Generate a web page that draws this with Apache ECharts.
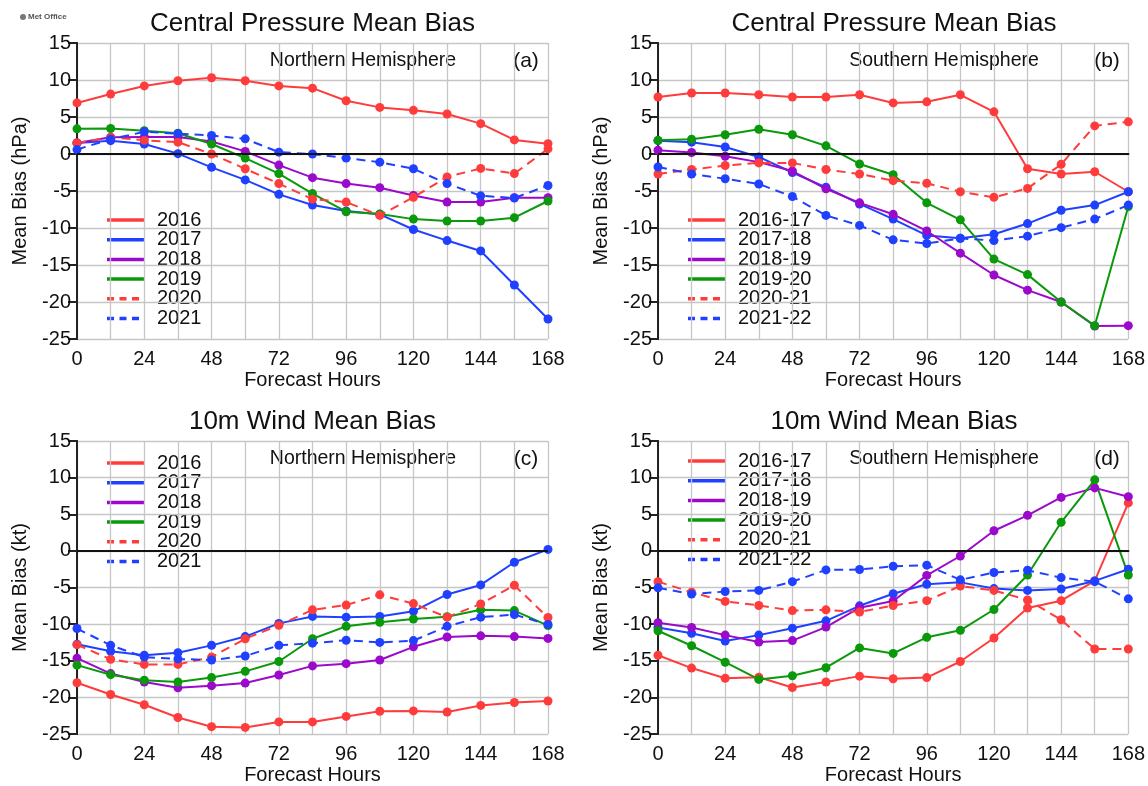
<!DOCTYPE html>
<html><head><meta charset="utf-8">
<script src="https://cdn.jsdelivr.net/npm/echarts@6/dist/echarts.min.js"></script>
<style>html,body{margin:0;padding:0;background:#fff}#c{width:1148px;height:786px}</style>
</head><body><div id="c"></div>
<script>
// ---------- data ----------
const hours = [0,12,24,36,48,60,72,84,96,108,120,132,144,156,168];
const xTickLabels = [0,24,48,72,96,120,144,168];
const yMin = -25, yMax = 15, yStep = 5;
const namesNH = ['2016','2017','2018','2019','2020','2021'];
const namesSH = ['2016-17','2017-18','2018-19','2019-20','2020-21','2021-22'];

// (a) Central pressure, Northern Hemisphere (hPa)
const a2016 = [6.9, 8.1, 9.2, 9.9, 10.3, 9.9, 9.2, 8.9, 7.2, 6.3, 5.9, 5.4, 4.1, 1.9, 1.4];
const a2017 = [1.5, 1.8, 1.35, 0.05, -1.8, -3.5, -5.45, -6.9, -7.7, -8.15, -10.2, -11.7, -13.1, -17.7, -22.3];
const a2018 = [1.5, 2.25, 2.3, 2.3, 1.7, 0.35, -1.5, -3.2, -4.0, -4.55, -5.6, -6.5, -6.5, -5.9, -5.9];
const a2019 = [3.4, 3.45, 3.15, 2.8, 1.35, -0.55, -2.65, -5.35, -7.8, -8.1, -8.8, -9.05, -9.05, -8.6, -6.35];
const a2020 = [1.5, 2.25, 1.85, 1.6, 0.0, -2.0, -4.0, -6.1, -6.5, -8.3, -5.85, -3.1, -1.95, -2.65, 0.7];
const a2021 = [0.6, 2.0, 3.0, 2.75, 2.5, 2.05, 0.25, 0.0, -0.55, -1.1, -2.0, -4.0, -5.65, -5.95, -4.25];

// (b) Central pressure, Southern Hemisphere (hPa)
const b1617 = [7.7, 8.25, 8.25, 8.0, 7.7, 7.7, 8.0, 6.9, 7.05, 8.0, 5.7, -2.0, -2.7, -2.4, -5.1];
const b1718 = [1.8, 1.6, 0.95, -0.4, -2.5, -4.5, -6.75, -8.8, -11.0, -11.4, -10.85, -9.4, -7.6, -6.9, -5.1];
const b1819 = [0.5, 0.2, -0.3, -1.1, -2.3, -4.7, -6.6, -8.15, -10.4, -13.4, -16.35, -18.4, -20.0, -23.25, -23.2];
const b1920 = [1.85, 2.0, 2.6, 3.35, 2.6, 1.1, -1.35, -2.8, -6.6, -8.9, -14.2, -16.3, -20.0, -23.2, -7.1];
const b2021 = [-2.7, -2.1, -1.55, -1.2, -1.2, -2.1, -2.7, -3.6, -3.95, -5.1, -5.85, -4.65, -1.4, 3.8, 4.35];
const b2122 = [-1.75, -2.7, -3.35, -4.05, -5.75, -8.3, -9.65, -11.6, -12.1, -11.4, -11.7, -11.1, -9.95, -8.8, -6.9];

// (c) 10m wind, Northern Hemisphere (kt)
const c2016 = [-18.0, -19.6, -21.0, -22.75, -24.0, -24.1, -23.35, -23.35, -22.6, -21.9, -21.85, -22.0, -21.1, -20.7, -20.5];
const c2017 = [-12.75, -13.7, -14.25, -13.9, -12.9, -11.7, -9.9, -8.95, -9.05, -8.95, -8.25, -5.95, -4.65, -1.55, 0.2];
const c2018 = [-14.65, -16.75, -17.9, -18.7, -18.4, -18.05, -16.95, -15.7, -15.4, -14.9, -13.1, -11.75, -11.6, -11.7, -11.95];
const c2019 = [-15.6, -16.9, -17.65, -17.9, -17.3, -16.45, -15.1, -12.0, -10.3, -9.75, -9.3, -9.0, -8.05, -8.15, -10.2];
const c2020 = [-12.8, -14.8, -15.5, -15.5, -14.5, -12.0, -10.15, -8.05, -7.4, -6.0, -7.2, -9.05, -7.25, -4.7, -9.1];
const c2021 = [-10.6, -12.9, -14.5, -14.75, -14.9, -14.35, -12.9, -12.6, -12.2, -12.5, -12.25, -10.3, -9.05, -8.7, -10.05];

// (d) 10m wind, Southern Hemisphere (kt)
const d1617 = [-14.25, -16.0, -17.4, -17.25, -18.65, -17.9, -17.1, -17.45, -17.3, -15.1, -11.9, -7.8, -6.8, -4.1, 6.55];
const d1718 = [-10.45, -11.25, -12.3, -11.5, -10.55, -9.55, -7.5, -5.85, -4.55, -4.3, -5.15, -5.4, -5.2, -4.1, -2.5];
const d1819 = [-9.8, -10.45, -11.5, -12.45, -12.25, -10.4, -7.75, -6.85, -3.35, -0.7, 2.75, 4.85, 7.3, 8.6, 7.4];
const d1920 = [-10.9, -12.95, -15.2, -17.55, -17.05, -15.95, -13.25, -14.0, -11.8, -10.85, -8.0, -3.3, 3.9, 9.7, -3.3];
const d2021 = [-4.2, -5.65, -6.9, -7.45, -8.15, -8.05, -8.35, -7.45, -6.8, -4.8, -5.4, -6.7, -9.4, -13.4, -13.4];
const d2122 = [-5.05, -5.9, -5.55, -5.4, -4.2, -2.6, -2.55, -2.1, -1.95, -3.95, -2.95, -2.65, -3.65, -4.2, -6.55];

// ---------- style ----------
const colors = ['#ff3c3c','#2040ff','#9b0acb','#0a990a','#ff3c3c','#2040ff'];
const dashed = [false,false,false,false,true,true];
const FONT = "'Liberation Sans', Arial, Helvetica, sans-serif";

const panels = [
  {grid:{left:77, top:43, width:471, height:296}, title:'Central Pressure Mean Bias', titleY:24, sub:'Northern Hemisphere', letter:'(a)', yName:'Mean Bias (hPa)', names:namesNH, data:[a2016,a2017,a2018,a2019,a2020,a2021], legTop:177},
  {grid:{left:658, top:43, width:472, height:296}, title:'Central Pressure Mean Bias', titleY:24, sub:'Southern Hemisphere', letter:'(b)', yName:'Mean Bias (hPa)', names:namesSH, data:[b1617,b1718,b1819,b1920,b2021,b2122], legTop:177},
  {grid:{left:77, top:441, width:471, height:295}, title:'10m Wind Mean Bias', titleY:422, sub:'Northern Hemisphere', letter:'(c)', yName:'Mean Bias (kt)', names:namesNH, data:[c2016,c2017,c2018,c2019,c2020,c2021], legTop:22},
  {grid:{left:658, top:441, width:472, height:295}, title:'10m Wind Mean Bias', titleY:422, sub:'Southern Hemisphere', letter:'(d)', yName:'Mean Bias (kt)', names:namesSH, data:[d1617,d1718,d1819,d1920,d2021,d2122], legTop:20},
];

const grid = [], xAxis = [], yAxis = [], series = [], graphic = [];
const frame = {show:true, lineStyle:{color:'#222', width:2}};
const split = {show:true, lineStyle:{color:'#c6c6c6', width:1.3}};

panels.forEach((p, i) => {
  grid.push(Object.assign({containLabel:false}, p.grid));
  // bottom x
  xAxis.push({gridIndex:i, type:'value', min:0, max:168, interval:12, position:'bottom',
    axisLine:frame, axisTick:{show:false}, splitLine:split,
    axisLabel:{fontSize:20, color:'#111', fontFamily:FONT, margin:10,
      formatter:v => xTickLabels.indexOf(v) >= 0 ? String(v) : ''},
    name:'Forecast Hours', nameLocation:'middle', nameGap:31,
    nameTextStyle:{fontSize:20, color:'#111', fontFamily:FONT}});
  // top x (frame)
  xAxis.push({gridIndex:i, type:'value', min:0, max:168, interval:12, position:'top',
    axisLine:frame, axisTick:{show:false}, axisLabel:{show:false}, splitLine:{show:false}});
  // left y
  yAxis.push({gridIndex:i, type:'value', min:yMin, max:yMax, interval:yStep, position:'left',
    axisLine:frame, axisTick:{show:false}, splitLine:split,
    axisLabel:{fontSize:20, color:'#111', fontFamily:FONT, margin:6},
    name:p.yName, nameLocation:'middle', nameRotate:90, nameGap:47,
    nameTextStyle:{fontSize:20, color:'#111', fontFamily:FONT}});
  // right y (frame + inward ticks)
  yAxis.push({gridIndex:i, type:'value', min:yMin, max:yMax, interval:yStep, position:'right',
    axisLine:frame, axisTick:{show:true, inside:true, length:9, lineStyle:{color:'#222', width:2}},
    axisLabel:{show:false}, splitLine:{show:false}});

  p.data.forEach((vals, k) => {
    const s = {
      name: p.names[k], type:'line', xAxisIndex: 2*i, yAxisIndex: 2*i,
      data: hours.map((h, j) => [h, vals[j]]),
      symbol:'circle', symbolSize:9, showSymbol:true,
      lineStyle:{color:colors[k], width:2, type: dashed[k] ? [9,6] : 'solid'},
      itemStyle:{color:colors[k]},
      animation:false, silent:true, z: 3
    };
    if (k === 0) {
      s.markLine = {silent:true, symbol:'none', animation:false,
        lineStyle:{color:'#111', width:2, type:'solid'}, label:{show:false},
        data:[{yAxis:0}]};
    }
    series.push(s);
  });

  const g = p.grid;
  graphic.push({type:'text', x:g.left + g.width/2, y:p.titleY,
    style:{text:p.title, font:'26px ' + FONT, fill:'#111', textAlign:'center', textVerticalAlign:'middle'}});
  graphic.push({type:'text', x:g.left + 286, y:g.top + 18,
    style:{text:p.sub, font:'19.5px ' + FONT, fill:'#111', textAlign:'center', textVerticalAlign:'middle'}});
  graphic.push({type:'text', x:g.left + 449, y:g.top + 18,
    style:{text:p.letter, font:'21px ' + FONT, fill:'#111', textAlign:'center', textVerticalAlign:'middle'}});
  // legend
  p.names.forEach((nm, k) => {
    const yy = g.top + p.legTop + k * 19.7;
    graphic.push({type:'line', shape:{x1:g.left + 30, y1:yy, x2:g.left + 67, y2:yy},
      style:{stroke:colors[k], lineWidth:3.5, lineDash: dashed[k] ? [7,5.5] : null}});
    graphic.push({type:'text', x:g.left + 80, y:yy,
      style:{text:nm, font:'20px ' + FONT, fill:'#111', textAlign:'left', textVerticalAlign:'middle'}});
  });
});

// Met Office mark
graphic.push({type:'circle', shape:{cx:23, cy:17, r:3}, style:{fill:'#777'}});
graphic.push({type:'text', x:28, y:17,
  style:{text:'Met Office', font:'bold 8px ' + FONT, fill:'#555', textAlign:'left', textVerticalAlign:'middle'}});

const chart = echarts.init(document.getElementById('c'), null, {renderer:'canvas'});
chart.setOption({
  backgroundColor:'#ffffff',
  animation:false,
  textStyle:{fontFamily:FONT},
  grid, xAxis, yAxis, series, graphic
});
</script>
</body></html>
